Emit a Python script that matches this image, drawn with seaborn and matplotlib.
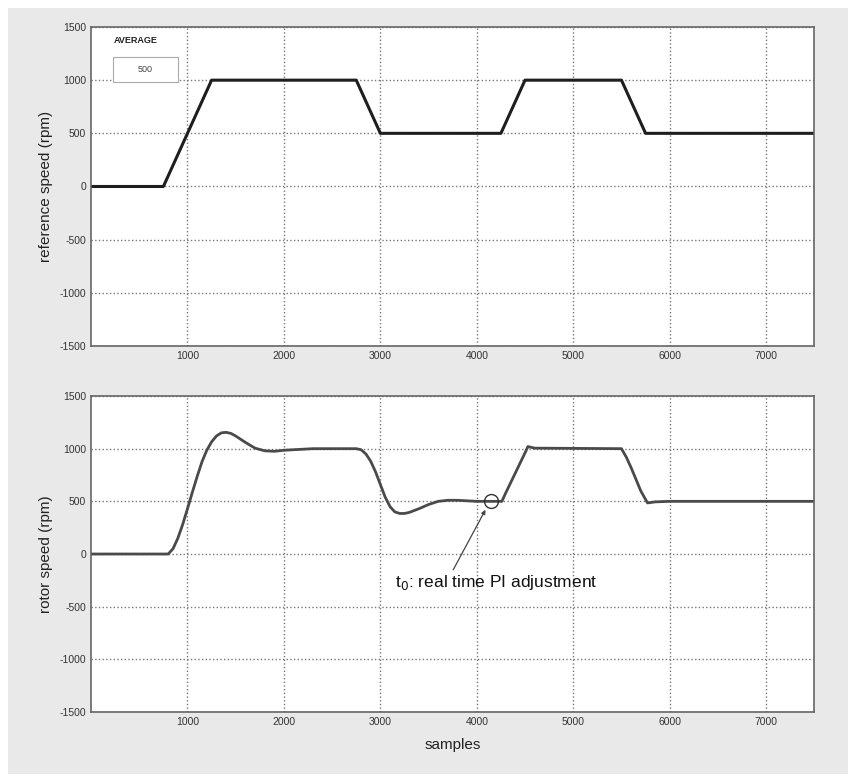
import matplotlib
matplotlib.use("Agg")
import matplotlib.pyplot as plt
import matplotlib.patches as mpatches
import seaborn as sns
import pandas as pd

# reference speed profile (samples, rpm)
ref_samples = [0, 750, 1250, 2750, 3000, 4250, 4500, 5500, 5750, 7500]
ref_speed = [0, 0, 1000, 1000, 500, 500, 1000, 1000, 500, 500]

# measured rotor speed (samples, rpm)
rotor_samples = [0, 800, 850, 900, 950, 1000, 1050, 1100, 1150, 1200, 1250, 1300,
                 1350, 1400, 1450, 1500, 1600, 1700, 1800, 1900, 2000, 2300,
                 2750, 2800, 2850, 2900, 2950, 3000, 3050, 3100, 3150, 3200,
                 3250, 3300, 3400, 3500, 3600, 3700, 3800, 3900, 4000, 4260,
                 4300, 4400, 4500, 4530, 4600, 5500, 5550, 5600, 5650, 5700,
                 5770, 5850, 6000, 7500]
rotor_speed = [0, 0, 50, 150, 280, 430, 585, 735, 875, 985, 1065, 1120,
               1150, 1155, 1145, 1120, 1060, 1005, 980, 975, 985, 1000,
               1000, 990, 950, 880, 780, 660, 540, 450, 400, 385,
               385, 395, 430, 470, 500, 510, 510, 505, 500, 500,
               580, 770, 960, 1020, 1005, 1000, 920, 820, 710, 600,
               485, 495, 500, 500]

tick_x = [1000, 2000, 3000, 4000, 5000, 6000, 7000]
tick_y = [-1500, -1000, -500, 0, 500, 1000, 1500]

avg_label = "AVERAGE"
avg_value = "500"
note_text = "t$_0$: real time PI adjustment"

ref_df = pd.DataFrame({"samples": ref_samples, "rpm": ref_speed})
rot_df = pd.DataFrame({"samples": rotor_samples, "rpm": rotor_speed})

sns.set_theme(style="white")
plt.rcParams["font.family"] = ["Liberation Sans", "DejaVu Sans"]
plt.rcParams["axes.unicode_minus"] = False

fig = plt.figure(figsize=(8.59, 7.78), dpi=100, facecolor="white")
panel = mpatches.Rectangle((8 / 859, 4 / 778), 840 / 859, 766 / 778,
                           transform=fig.transFigure, facecolor="#e9e9e9",
                           edgecolor="none", zorder=-10)
fig.patches.append(panel)

ax1 = fig.add_axes([0.106, 0.5553, 0.842, 0.41])
ax2 = fig.add_axes([0.106, 0.0848, 0.842, 0.4062])

sns.lineplot(data=ref_df, x="samples", y="rpm", ax=ax1, color="#1e1e1e", linewidth=2.2)
sns.lineplot(data=rot_df, x="samples", y="rpm", ax=ax2, color="#4a4a4a", linewidth=2.0)

for ax in (ax1, ax2):
    ax.set_facecolor("white")
    ax.set_xlim(0, 7500)
    ax.set_ylim(-1500, 1500)
    ax.set_xticks(tick_x)
    ax.set_yticks(tick_y)
    ax.grid(True, linestyle=":", color="#777777", linewidth=1.0)
    ax.tick_params(axis="both", labelsize=7.5, colors="#555555", length=3,
                   direction="in", labelcolor="#333333")
    for s in ax.spines.values():
        s.set_color("#666666")
        s.set_linewidth(1.2)
    ax.set_xlabel("")

ax1.set_ylabel("reference speed (rpm)", fontsize=11, color="#222222", labelpad=5)
ax2.set_ylabel("rotor speed (rpm)", fontsize=11, color="#222222", labelpad=5)
ax2.set_xlabel("samples", fontsize=11, color="#222222", labelpad=8)

# average display box
ax1.text(0.062, 0.958, avg_label, transform=ax1.transAxes, fontsize=6.5,
         fontweight="bold", color="#222222", ha="center", va="center")
ax1.add_patch(mpatches.Rectangle((0.030, 0.828), 0.090, 0.078, transform=ax1.transAxes,
                                 facecolor="white", edgecolor="#aaaaaa", linewidth=0.8,
                                 zorder=3))
ax1.text(0.075, 0.867, avg_value, transform=ax1.transAxes, fontsize=6.5,
         color="#444444", ha="center", va="center", zorder=4)

# PI adjustment marker
ax2.plot([4148], [500], marker="o", markersize=10, markerfacecolor="none",
         markeredgecolor="#333333", markeredgewidth=1.0)
ax2.annotate(note_text, xy=(4090, 420), xytext=(3150, -270),
             fontsize=12.5, color="#111111", ha="left", va="center",
             arrowprops=dict(arrowstyle="-|>", color="#444444", linewidth=0.9,
                             mutation_scale=6, shrinkA=0, shrinkB=0,
                             relpos=(0.28, 1.0)))

fig.savefig("out.png", dpi=100, facecolor=fig.get_facecolor())
